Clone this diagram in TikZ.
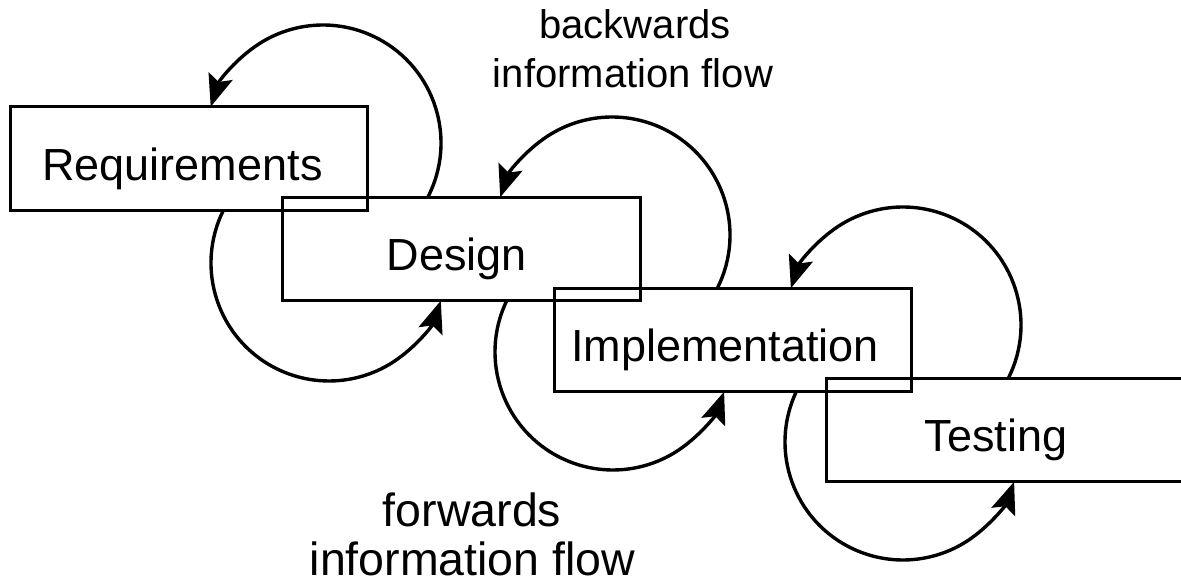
\documentclass[tikz,border=0pt]{standalone}
\usepackage{fontspec}
\setmainfont{Liberation Sans}
\usetikzlibrary{arrows.meta,calc}
\begin{document}
\begin{tikzpicture}[x=1pt,y=1pt,
  stage/.style={draw, line width=3pt, minimum width=357.5pt,
    minimum height=103.5pt, inner sep=0pt},
  stagetext/.style={anchor=base, inner sep=0pt,
    font=\fontsize{45}{54}\selectfont},
  toplabel/.style={anchor=base, inner sep=0pt,
    font=\fontsize{40}{49}\selectfont},
  bottomlabel/.style={anchor=base, inner sep=0pt,
    font=\fontsize{46.5}{54}\selectfont},
  flow/.style={line width=3.4pt,
    -{Stealth[length=32pt,width=25pt,inset=6pt]}}
]
\useasboundingbox (0,0) rectangle (1181,583);
\clip (0,0) rectangle (1181,583);

% the four stages, stepping down to the right
\node[stage] (req) at (189,424.5) {};
\node[stage] (des) at (461.5,334) {};
\node[stage] (imp) at (733,243) {};
\node[stage] (tst) at (1005,153) {};

\node[stagetext] (reqt) at (182.5,402) {Requirements};
\node[stagetext] (dest) at (457,312) {Design};
\node[stagetext] (impt) at (725,221) {Implementation};
\node[stagetext] (tstt) at (996,131) {Testing};

% centres of the feedback loops (above) and feed-forward loops (below)
\coordinate (b1) at (323,440);
\coordinate (b2) at (612,348);
\coordinate (b3) at (903,258);
\coordinate (f1) at (329,320);
\coordinate (f2) at (613,231);
\coordinate (f3) at (903,141);

% backwards information flow
\draw[flow] ($(b1)+(-27.37:118)$) arc[start angle=-27.37, end angle=162.11, radius=118];
\draw[flow] ($(b2)+(-26.83:118)$) arc[start angle=-26.83, end angle=161.34, radius=118];
\draw[flow] ($(b3)+(-26.83:118)$) arc[start angle=-26.83, end angle=161.85, radius=118];

% forwards information flow
\draw[flow] ($(f1)+(153.45:118)$) arc[start angle=153.45, end angle=341.34, radius=118];
\draw[flow] ($(f2)+(154.26:118)$) arc[start angle=154.26, end angle=340.31, radius=118];
\draw[flow] ($(f3)+(154.80:118)$) arc[start angle=154.80, end angle=340.31, radius=118];

% captions
\node[toplabel] (back1) at (635,544) {backwards};
\node[toplabel] (back2) at (633,495) {information flow};
\node[bottomlabel] (fwd1) at (472,56) {forwards};
\node[bottomlabel] (fwd2) at (472.5,7) {information flow};
\end{tikzpicture}
\end{document}
